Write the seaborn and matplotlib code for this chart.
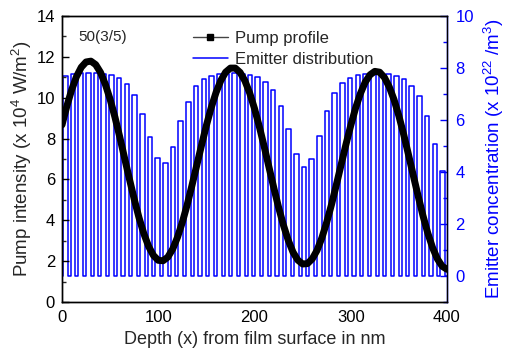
import numpy as np
import pandas as pd
import matplotlib
matplotlib.use("Agg")
import matplotlib.pyplot as plt
import seaborn as sns
from matplotlib.lines import Line2D
from matplotlib.ticker import MultipleLocator

# ---- data ----
pump_depth = list(range(0, 405, 5))
pump_intensity = [8.67, 9.58, 10.38, 11.03, 11.49, 11.75, 11.79, 11.62, 11.24, 10.66,
                  9.92, 9.05, 8.08, 7.05, 6.03, 5.04, 4.13, 3.35, 2.72, 2.28,
                  2.04, 2.02, 2.20, 2.59, 3.17, 3.90, 4.75, 5.70, 6.69, 7.68,
                  8.64, 9.51, 10.25, 10.84, 11.25, 11.45, 11.45, 11.24, 10.83, 10.23,
                  9.47, 8.59, 7.62, 6.61, 5.60, 4.64, 3.77, 3.03, 2.44, 2.05,
                  1.86, 1.88, 2.11, 2.53, 3.14, 3.90, 4.77, 5.73, 6.72, 7.71,
                  8.64, 9.49, 10.20, 10.76, 11.12, 11.29, 11.25, 10.99, 10.53, 9.90,
                  9.11, 8.20, 7.21, 6.19, 5.19, 4.23, 3.38, 2.66, 2.11, 1.75,
                  1.60]

# emitter pulses: 50 periods of 8 nm, filled 3/5 of each period
pulse_start = [1.0 + 8 * i for i in range(50)]
pulse_end = [5.8 + 8 * i for i in range(50)]
pulse_height = [7.68, 7.76, 7.79, 7.80, 7.79, 7.77, 7.72, 7.62, 7.40, 6.95,
                6.25, 5.33, 4.53, 4.35, 4.95, 5.97, 6.68, 7.31, 7.57, 7.70,
                7.76, 7.78, 7.79, 7.77, 7.73, 7.64, 7.48, 7.15, 6.55, 5.65,
                4.70, 4.20, 4.50, 5.40, 6.35, 7.02, 7.42, 7.62, 7.72, 7.77,
                7.78, 7.78, 7.76, 7.70, 7.58, 7.32, 6.91, 6.14, 5.08, 4.05]
depth_min, depth_max = 0, 400

# build the step outline of the emitter distribution
ex, ey = [depth_min], [0.0]
for s, e, h in zip(pulse_start, pulse_end, pulse_height):
    ex += [s, s, e, e]
    ey += [0.0, h, h, 0.0]
ex.append(depth_max)
ey.append(0.0)
emit_df = pd.DataFrame({"x": ex, "y": ey})
pump_df = pd.DataFrame({"x": pump_depth, "y": pump_intensity})

# ---- styling ----
sns.set_style("white")
plt.rcParams["font.family"] = ["Liberation Sans", "DejaVu Sans"]
plt.rcParams["mathtext.default"] = "regular"

fig = plt.figure(figsize=(5.06, 3.54), dpi=100)
ax = fig.add_axes([62 / 506, 1 - 302 / 354, (447 - 62) / 506, (302 - 16) / 354])
ax2 = ax.twinx()

sns.lineplot(data=emit_df, x="x", y="y", ax=ax2, color="#0000ff", lw=1.1,
             estimator=None, sort=False)
sns.lineplot(data=pump_df, x="x", y="y", ax=ax, color="black", lw=5.0,
             estimator=None, sort=False, zorder=5)
ax.set_zorder(ax2.get_zorder() + 1)
ax.patch.set_visible(False)

ax.set_xlim(0, 400)
ax.set_ylim(0, 14)
ax2.set_ylim(-1, 10)

ax.xaxis.set_major_locator(MultipleLocator(100))
ax.xaxis.set_minor_locator(MultipleLocator(50))
ax.yaxis.set_major_locator(MultipleLocator(2))
ax.yaxis.set_minor_locator(MultipleLocator(1))
ax2.set_yticks([0, 2, 4, 6, 8, 10])
ax2.yaxis.set_minor_locator(MultipleLocator(1))

for a in (ax, ax2):
    for sp in a.spines.values():
        sp.set_linewidth(1.0)
        sp.set_color("black")
ax2.spines["right"].set_color("#0000ff")

ax.tick_params(axis="both", which="major", direction="in", length=5, width=1,
               labelsize=12, colors="black", top=False, right=False)
ax.tick_params(axis="x", which="major", pad=6)
ax.tick_params(axis="y", which="major", pad=5)
ax.tick_params(axis="both", which="minor", direction="in", length=3, width=1,
               top=False, right=False)
ax2.tick_params(axis="y", which="major", direction="in", length=5, width=1,
                labelsize=12, pad=6, colors="#0000ff")
ax2.tick_params(axis="y", which="minor", direction="in", length=3, width=1,
                colors="#0000ff")

ax.set_xlabel("Depth (x) from film surface in nm", fontsize=13, labelpad=4)
ax.set_ylabel("Pump intensity (x 10$^4$ W/m$^2$)", fontsize=13.5, labelpad=2)
ax2.set_ylabel("Emitter concentration (x 10$^{22}$ /m$^3$)", fontsize=13.5,
               color="#0000ff", labelpad=6)

ax.text(0.042, 0.925, "50(3/5)", transform=ax.transAxes, fontsize=11,
        ha="left", va="center")

handles = [Line2D([], [], color="#444444", lw=1, marker="s", ms=5,
                  markerfacecolor="black", markeredgecolor="black"),
           Line2D([], [], color="#0000ff", lw=1.1)]
ax.legend(handles, ["Pump profile", "Emitter distribution"], loc="upper left",
          bbox_to_anchor=(0.34, 0.948), frameon=False, fontsize=12,
          handlelength=2.1, handletextpad=0.4, labelspacing=0.35,
          borderpad=0, borderaxespad=0)

fig.savefig("out.png", dpi=100)
